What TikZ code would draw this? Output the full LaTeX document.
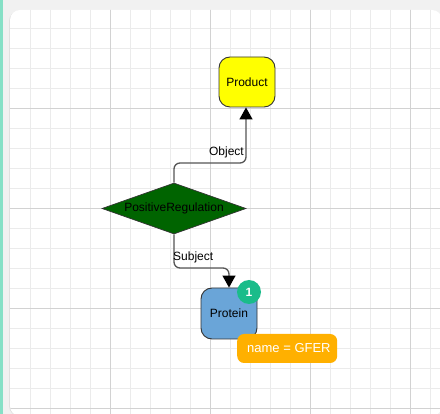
\documentclass[tikz,border=0pt]{standalone}
\usepackage{fontspec}
\setmainfont{Liberation Sans}
\usetikzlibrary{shapes.geometric,arrows.meta}
\definecolor{teal1}{HTML}{86E0C6}
\definecolor{topgray}{HTML}{F1F1F1}
\definecolor{minorg}{HTML}{EBEBEB}
\definecolor{majorg}{HTML}{D2D2D2}
\definecolor{prodyellow}{HTML}{FFFF00}
\definecolor{reggreen}{HTML}{006400}
\definecolor{protblue}{HTML}{6AA5D8}
\definecolor{badgegreen}{HTML}{1ABC8A}
\definecolor{nameorange}{HTML}{FFB000}
\definecolor{edgegray}{HTML}{555555}
\definecolor{bordergray}{HTML}{333333}
\tikzset{
  entity/.style={draw=bordergray, line width=0.9pt, rounded corners=11pt, minimum width=56pt, minimum height=50pt, inner sep=0pt, font=\fontsize{12}{14}\selectfont},
  reg/.style={diamond, draw=bordergray, line width=0.7pt, fill=reggreen, aspect=2.82, minimum width=144pt, minimum height=51pt, inner sep=0pt, font=\fontsize{12}{14}\selectfont},
  conn/.style={draw=edgegray, line width=1.3pt, rounded corners=6pt},
  tipped/.style={-{Triangle[length=12pt 0 0,width=13pt 0 0,fill=black,color=black]}},
  elabel/.style={font=\fontsize{12}{14}\selectfont, text=black, inner sep=0pt},
  badge/.style={circle, fill=badgegreen, minimum size=24pt, inner sep=0pt, text=white, font=\bfseries\fontsize{12}{14}\selectfont},
  namebox/.style={fill=nameorange, rounded corners=7pt, inner xsep=10pt, minimum height=29pt, inner ysep=0pt, text=white, font=\fontsize{13}{15}\selectfont}
}
\begin{document}
\begin{tikzpicture}[x=1pt,y=-1pt]
\useasboundingbox (0,0) rectangle (440,414);
% background
\fill[topgray] (0,0) rectangle (440,414);
\fill[black!12] (9,11) [rounded corners=10pt] -- (9,416) -- (442,416) -- (442,11) -- cycle;
\fill[white] (10,10) [rounded corners=10pt] -- (10,416) -- (442,416) -- (442,10) -- cycle;
\begin{scope}
\clip (10,10) [rounded corners=10pt] -- (10,416) -- (442,416) -- (442,10) -- cycle;
\foreach \gx in {30,50,...,430} \draw[minorg, line width=1pt] (\gx,0) -- (\gx,414);
\foreach \gy in {29,49,...,409} \draw[minorg, line width=1pt] (0,\gy) -- (440,\gy);
\foreach \gx in {110,210,310,410} \draw[majorg, line width=1pt] (\gx,0) -- (\gx,414);
\foreach \gy in {109,209,309,409} \draw[majorg, line width=1pt] (0,\gy) -- (440,\gy);
\end{scope}
\fill[teal1] (0,0) rectangle (2.5,414);

% nodes
\node[entity, fill=prodyellow] (product) at (247,82) {Product};
\node[reg] (posreg) at (174,208.5) {PositiveRegulation};
\node[entity, fill=protblue, minimum height=51pt] (protein) at (229,313.5) {Protein};
\node[badge] (badge) at (249,292) {1};
\node[namebox, anchor=west] (name) at (237,348.5) {\makebox[80pt][l]{name = GFER}};

% connectors
\coordinate (objc) at (246,163);
\coordinate (subc) at (229,268);
\draw[conn, tipped] (posreg.north) -- (174,163) -- (objc) -- (product.south -| objc);
\draw[conn, tipped] (posreg.south) -- (174,268) -- (subc) -- (protein.north);
\node[elabel, anchor=south east] (objlbl) at (244,158) {Object};
\node[elabel, anchor=south west] (sublbl) at (173,263) {Subject};
\end{tikzpicture}
\end{document}
